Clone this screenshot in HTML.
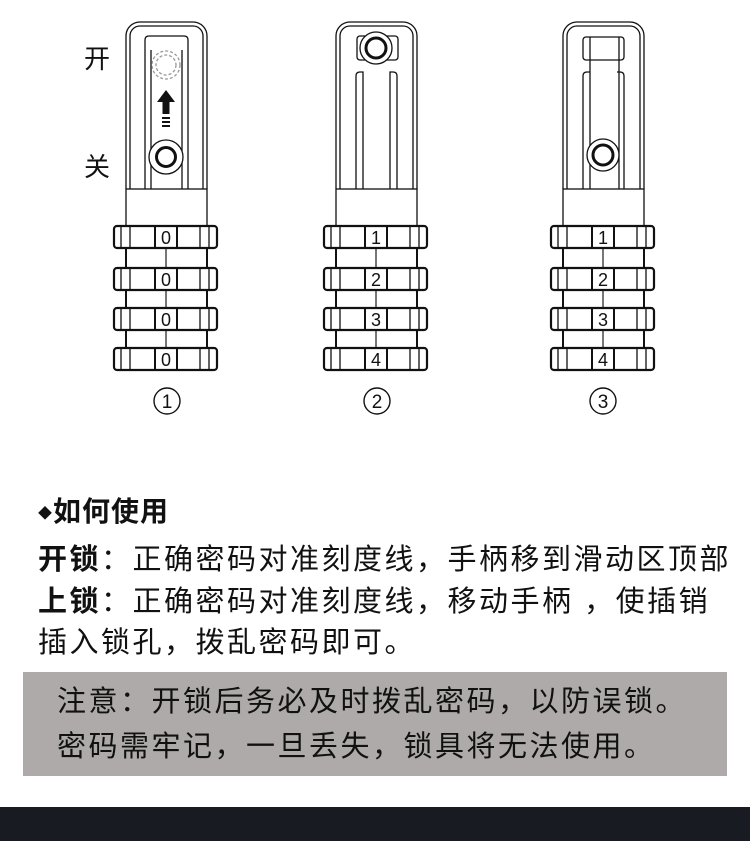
<!DOCTYPE html>
<html><head><meta charset="utf-8"><style>
html,body{margin:0;padding:0;background:#fff;}
body{width:750px;height:841px;position:relative;overflow:hidden;font-family:"Liberation Sans","Noto Sans CJK SC",sans-serif;color:#111;}
.t{position:absolute;white-space:nowrap;}
</style></head><body>
<svg width="750" height="460" style="position:absolute;left:0;top:0" xmlns="http://www.w3.org/2000/svg">
<defs>
<g id="dials" fill="none" stroke="#111">
  <line x1="-40" y1="226" x2="-40" y2="350" stroke-width="2"/>
  <line x1="41" y1="226" x2="41" y2="350" stroke-width="2"/>
  <line x1="0" y1="248" x2="0" y2="350" stroke="#777" stroke-width="2"/>
  <g id="dial">
    <rect x="-52" y="226" width="103" height="22" rx="3" fill="#fff" stroke-width="2.2"/>
    <g stroke-width="1.3">
      <line x1="-45" y1="226" x2="-45" y2="248"/><line x1="-36" y1="226" x2="-36" y2="248"/>
      <line x1="-11" y1="226" x2="-11" y2="248" stroke-width="2"/><line x1="11" y1="226" x2="11" y2="248" stroke-width="2"/>
      <line x1="34" y1="226" x2="34" y2="248"/><line x1="43" y1="226" x2="43" y2="248"/>
    </g>
  </g>
  <use href="#dial" y="42"/><use href="#dial" y="82"/><use href="#dial" y="122"/>
</g>
<g id="body" fill="none" stroke="#111" stroke-width="1.3">
  <path d="M-40,189 V36 a14,14 0 0 1 14,-14 H27 a14,14 0 0 1 14,14 V189"/>
  <path d="M-36,189 V36 a10,10 0 0 1 10,-10 H27 a10,10 0 0 1 10,10 V189"/>
  <rect x="-40" y="189" width="81" height="37" fill="#fff"/>
</g>
</defs>

<g transform="translate(166,0)">
  <use href="#body"/>
  <g fill="none" stroke="#111" stroke-width="1.3">
    <path d="M-21,189 V40 q0,-4 4,-4 H18 q4,0 4,4 V189"/>
    <line x1="-15" y1="50" x2="-15" y2="189"/><line x1="16" y1="50" x2="16" y2="189"/>
    <circle cx="0" cy="65" r="14" stroke="#999" stroke-dasharray="3,2" fill="#fff"/>
    <circle cx="0" cy="65" r="10" stroke="#999" stroke-dasharray="3,2"/>
    <circle cx="0" cy="157" r="17" fill="#fff"/>
    <circle cx="0" cy="157" r="9.5" stroke-width="3"/>
  </g>
  <path d="M0,90 L-9,102 H-3.5 V114 H3.5 V102 H9 Z" fill="#111"/>
  <rect x="-4" y="117" width="8" height="2" fill="#111"/>
  <rect x="-4" y="121" width="8" height="2" fill="#111"/>
  <rect x="-4" y="125" width="8" height="2" fill="#111"/>
  <use href="#dials"/>
</g>

<g transform="translate(376,0)">
  <use href="#body"/>
  <g fill="none" stroke="#111" stroke-width="1.3">
    <rect x="-19" y="36" width="41" height="24" rx="3"/>
    <path d="M-20,189 V76 q0,-4 4,-4 H-13 V189"/>
    <path d="M21,189 V76 q0,-4 -4,-4 H14 V189"/>
    <circle cx="0" cy="48" r="16" fill="#fff"/>
    <circle cx="0" cy="48" r="10" stroke-width="3"/>
  </g>
  <use href="#dials"/>
</g>

<g transform="translate(603,0)">
  <use href="#body"/>
  <g fill="none" stroke="#111" stroke-width="1.3">
    <rect x="-20" y="37" width="41" height="23" rx="3"/>
    <path d="M-20,189 V76 q0,-4 4,-4 H-13"/>
    <path d="M21,189 V76 q0,-4 -4,-4 H14"/>
    <line x1="-13" y1="37" x2="-13" y2="189"/><line x1="16" y1="37" x2="16" y2="189"/>
    <circle cx="0" cy="155" r="16" fill="#fff"/>
    <circle cx="0" cy="155" r="10" stroke-width="3"/>
  </g>
  <use href="#dials"/>
</g>

<g font-family="Liberation Sans, sans-serif" font-size="18" text-anchor="middle" fill="#111">
  <text x="166" y="244">0</text><text x="166" y="286">0</text><text x="166" y="326">0</text><text x="166" y="366">0</text>
  <text x="376" y="244">1</text><text x="376" y="286">2</text><text x="376" y="326">3</text><text x="376" y="366">4</text>
  <text x="603" y="244">1</text><text x="603" y="286">2</text><text x="603" y="326">3</text><text x="603" y="366">4</text>
</g>
<g fill="none" stroke="#111" stroke-width="1.4">
  <circle cx="167" cy="401" r="13"/><circle cx="377" cy="401" r="13"/><circle cx="603" cy="401" r="13"/>
</g>
<g font-family="Liberation Sans, sans-serif" font-size="19" text-anchor="middle" fill="#111">
  <text x="167" y="408">1</text><text x="377" y="408">2</text><text x="603" y="408">3</text>
</g>
<g font-family="Noto Sans CJK SC, sans-serif" font-size="26" fill="#111">
  <text x="84" y="68">开</text><text x="84" y="176">关</text>
</g>
</svg>

<div class="t" style="left:38px;top:490px;font-size:28px;font-weight:bold;letter-spacing:1px;"><span style="font-size:14px;vertical-align:middle;">◆</span>如何使用</div>
<div class="t" style="left:38px;top:536px;font-size:29px;letter-spacing:2.5px;"><b>开锁</b>：正确密码对准刻度线，手柄移到滑动区顶部</div>
<div class="t" style="left:38px;top:578px;font-size:29px;letter-spacing:2.5px;"><b>上锁</b>：正确密码对准刻度线，移动手柄 ，使插销</div>
<div class="t" style="left:38px;top:619px;font-size:29px;letter-spacing:2.5px;">插入锁孔，拨乱密码即可。</div>
<div style="position:absolute;left:23px;top:672px;width:704px;height:104px;background:#aeaaaa;"></div>
<div class="t" style="left:57px;top:678px;font-size:29px;letter-spacing:2.5px;">注意：开锁后务必及时拨乱密码，以防误锁。</div>
<div class="t" style="left:57px;top:723px;font-size:29px;letter-spacing:2.5px;">密码需牢记，一旦丢失，锁具将无法使用。</div>
<div style="position:absolute;left:0;top:807px;width:750px;height:34px;background:#191b22;"></div>
</body></html>
